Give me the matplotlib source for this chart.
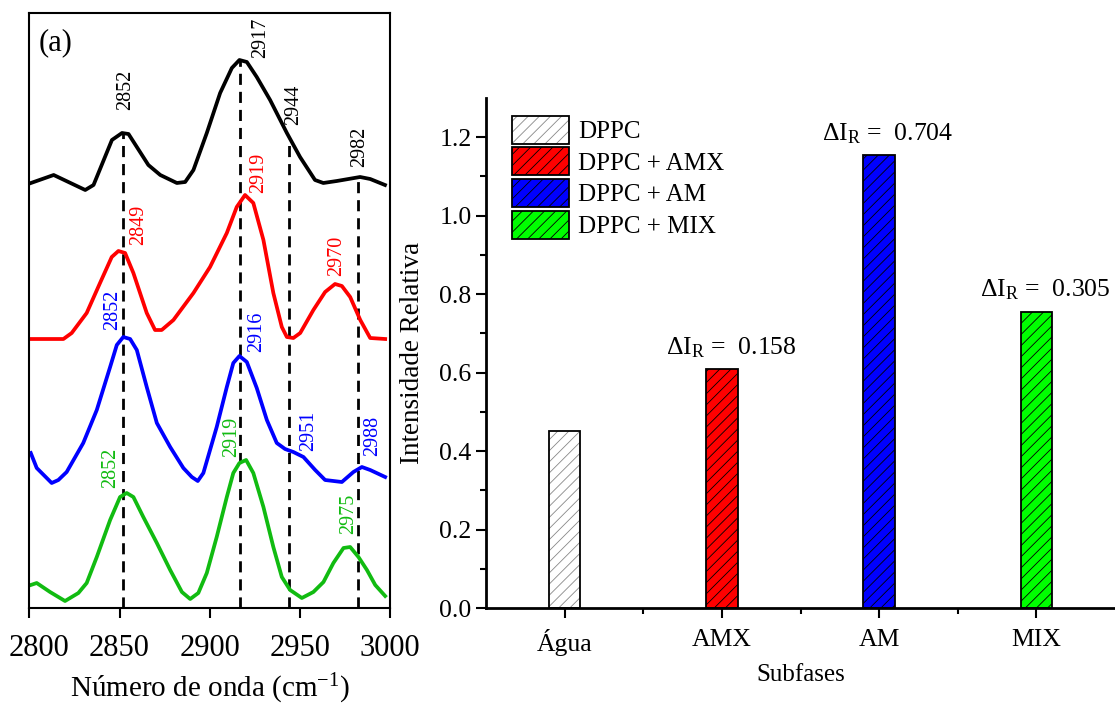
import numpy as np
import matplotlib.pyplot as plt
import matplotlib.transforms as mtransforms

plt.rcParams['font.family'] = ['Liberation Serif', 'DejaVu Serif']
plt.rcParams['mathtext.fontset'] = 'custom'
plt.rcParams['mathtext.rm'] = 'Liberation Serif'
plt.rcParams['mathtext.it'] = 'Liberation Serif:italic'
plt.rcParams['hatch.linewidth'] = 0.6

# (a) ATR spectra, CH stretching region (offset stacked, a.u.)
wn_dppc = [2800.9, 2813.5, 2831.0, 2835.6, 2845.8, 2851.4, 2855.0, 2866.0, 2872.6,
           2881.8, 2886.4, 2891.0, 2898.4, 2905.8, 2912.3, 2916.5, 2920.6, 2926.1,
           2933.5, 2942.8, 2950.1, 2958.4, 2963.0, 2970.5, 2983.4, 2989.0, 2997.2]
int_dppc = [4.25, 4.33, 4.18, 4.23, 4.68, 4.75, 4.74, 4.43, 4.33,
            4.25, 4.26, 4.38, 4.75, 5.15, 5.40, 5.48, 5.46, 5.31,
            5.08, 4.75, 4.51, 4.28, 4.25, 4.27, 4.31, 4.29, 4.23]

wn_amx = [2800.8, 2818.9, 2823.5, 2831.8, 2839.2, 2845.7, 2849.4, 2853.1, 2857.7,
          2865.1, 2869.7, 2873.4, 2879.9, 2891.0, 2900.2, 2909.5, 2915.0, 2919.6,
          2924.2, 2929.8, 2935.3, 2940.0, 2942.8, 2946.4, 2950.2, 2957.5, 2964.0,
          2969.5, 2973.3, 2977.9, 2983.5, 2989.0, 2997.3]
int_amx = [2.69, 2.69, 2.75, 2.95, 3.25, 3.51, 3.57, 3.55, 3.35,
           2.95, 2.78, 2.78, 2.88, 3.15, 3.41, 3.75, 4.01, 4.13,
           4.05, 3.68, 3.15, 2.81, 2.71, 2.70, 2.75, 2.98, 3.16,
           3.24, 3.22, 3.11, 2.88, 2.70, 2.69]

wn_am = [2800.8, 2804.1, 2812.4, 2816.1, 2820.7, 2829.9, 2837.4, 2844.8, 2848.5,
         2852.1, 2855.9, 2859.6, 2865.1, 2870.7, 2878.1, 2885.4, 2890.1, 2893.4,
         2896.5, 2903.9, 2909.5, 2913.1, 2916.5, 2920.6, 2926.1, 2931.7, 2937.2,
         2941.8, 2946.4, 2952.0, 2958.5, 2964.0, 2973.3, 2979.7, 2984.4, 2989.0, 2997.3]
int_am = [1.55, 1.40, 1.25, 1.28, 1.36, 1.65, 1.98, 2.41, 2.63,
          2.71, 2.69, 2.58, 2.21, 1.85, 1.61, 1.40, 1.31, 1.27,
          1.35, 1.81, 2.21, 2.45, 2.52, 2.46, 2.20, 1.88, 1.65,
          1.59, 1.56, 1.51, 1.38, 1.28, 1.26, 1.36, 1.41, 1.38, 1.31]

wn_mix = [2800.8, 2804.1, 2811.5, 2819.8, 2827.2, 2831.8, 2837.4, 2844.8, 2850.3,
          2854.0, 2857.7, 2863.2, 2870.7, 2878.1, 2884.6, 2889.2, 2893.7, 2898.4,
          2903.9, 2909.5, 2913.1, 2916.5, 2920.2, 2924.2, 2929.8, 2935.3, 2940.0,
          2944.6, 2951.1, 2957.5, 2963.1, 2968.6, 2974.2, 2977.9, 2982.5, 2987.2,
          2991.8, 2997.3]
int_mix = [0.23, 0.25, 0.16, 0.07, 0.15, 0.25, 0.51, 0.88, 1.11,
           1.15, 1.11, 0.91, 0.65, 0.38, 0.16, 0.09, 0.15, 0.35,
           0.71, 1.11, 1.35, 1.45, 1.48, 1.35, 1.01, 0.61, 0.31,
           0.18, 0.10, 0.16, 0.26, 0.45, 0.60, 0.61, 0.51, 0.38,
           0.23, 0.12]

# reference bands of pure DPPC (dashed guides)
bands_dppc = [2852, 2917, 2944, 2982]

# band labels per spectrum
peaks_dppc = ['2852', '2917', '2944', '2982']
peaks_amx = ['2849', '2919', '2970']
peaks_am = ['2852', '2916', '2951', '2988']
peaks_mix = ['2852', '2919', '2975']

# (b) relative intensity by subphase
subfases = ['Água', 'AMX', 'AM', 'MIX']
series = ['DPPC', 'DPPC + AMX', 'DPPC + AM', 'DPPC + MIX']
i_rel = [0.450, 0.608, 1.154, 0.755]
delta_ir = [None, 0.158, 0.704, 0.305]

# where each band label sits (x, y of bottom end)
pos_dppc = [(2853.6, 4.98), (2928.5, 5.50), (2946.8, 4.83), (2983.4, 4.41)]
pos_amx = [(2860.8, 3.63), (2927.4, 4.15), (2970.6, 3.32)]
pos_am = [(2846.4, 2.78), (2926.3, 2.56), (2954.6, 1.57), (2990.6, 1.52)]
pos_mix = [(2845.3, 1.20), (2912.4, 1.51), (2976.8, 0.74)]

fig = plt.figure(figsize=(11.15, 7.06), dpi=100)

# ---- left panel ----
ax1 = fig.add_axes([0.0263, 0.1388, 0.3235, 0.8428])
ax1.set_xlim(2800, 3000)
ax1.set_ylim(0, 5.95)

guide_top = np.interp(bands_dppc, wn_dppc, int_dppc)
ax1.vlines(bands_dppc, 0, guide_top, colors='black', linewidth=2,
           linestyles=(0, (4, 2.5)), zorder=1)

spectra = [(wn_dppc, int_dppc, 'black', peaks_dppc, pos_dppc),
           (wn_amx, int_amx, '#ff0000', peaks_amx, pos_amx),
           (wn_am, int_am, '#0000ff', peaks_am, pos_am),
           (wn_mix, int_mix, '#11bb11', peaks_mix, pos_mix)]
for wn, yy, col, labs, pos in spectra:
    ax1.plot(wn, yy, color=col, linewidth=2.7, zorder=2,
             solid_joinstyle='round')
    for lab, (px, py) in zip(labs, pos):
        ax1.text(px, py, lab, color=col, rotation=90, fontsize=14.5,
                 ha='center', va='bottom')

ax1.text(0.025, 0.975, '(a)', transform=ax1.transAxes, fontsize=22,
         ha='left', va='top')
ax1.set_yticks([])
ax1.set_xticks([2800, 2850, 2900, 2950, 3000])
ax1.tick_params(axis='x', direction='out', length=7, width=1.5,
                labelsize=22, pad=12)
# first label nudged right so it stays inside the figure
first = ax1.get_xticklabels()[0]
first.set_transform(first.get_transform() +
                    mtransforms.ScaledTranslation(0.1, 0, fig.dpi_scale_trans))
for sp in ax1.spines.values():
    sp.set_linewidth(1.5)
ax1.set_xlabel('Número de onda (cm$^{-1}$)', fontsize=21, labelpad=6)

# ---- right panel ----
ax2 = fig.add_axes([0.4359, 0.1388, 0.5641, 0.7224])
x = np.arange(len(subfases))
faces = ['white', '#ff0000', '#0000ff', '#00ff00']
hatch_cols = ['#888888', 'black', 'black', 'black']
handles = []
for i in range(len(subfases)):
    h1 = ax2.bar(x[i], i_rel[i], width=0.2, color=faces[i],
                 edgecolor=hatch_cols[i], hatch='///', linewidth=0, zorder=2)
    h2 = ax2.bar(x[i], i_rel[i], width=0.2, fill=False,
                 edgecolor='black', linewidth=1.3, zorder=3)
    handles.append((h1[0], h2[0]))
    if delta_ir[i] is not None:
        ax2.annotate('$\\Delta$I$_{\\mathrm{R}}$ =  %.3f' % delta_ir[i],
                     xy=(x[i], i_rel[i]), xytext=(6.5, 7),
                     textcoords='offset points', ha='center', va='bottom',
                     fontsize=18.5)

ax2.set_xlim(-0.5, 3.5)
ax2.set_ylim(0, 1.3)
ax2.set_xticks(x)
ax2.set_xticklabels(subfases)
ax2.set_xticks([0.5, 1.5, 2.5], minor=True)
ax2.set_yticks([0.0, 0.2, 0.4, 0.6, 0.8, 1.0, 1.2])
ax2.set_yticks(np.arange(0.1, 1.3, 0.2), minor=True)
ax2.yaxis.set_major_formatter(plt.FormatStrFormatter('%.1f'))
ax2.tick_params(which='major', direction='out', length=7, width=1.5,
                labelsize=18.5)
ax2.tick_params(which='minor', direction='out', length=4, width=1.5)
ax2.tick_params(axis='x', pad=8)
ax2.spines['top'].set_visible(False)
ax2.spines['right'].set_visible(False)
ax2.spines['left'].set_linewidth(2)
ax2.spines['bottom'].set_linewidth(2)
ax2.set_xlabel('Subfases', fontsize=18, labelpad=6)
ax2.set_ylabel('Intensidade Relativa', fontsize=19.5, labelpad=10)

ax2.legend(handles, series, loc='upper left', bbox_to_anchor=(0.041, 0.965),
           frameon=False, fontsize=18, borderpad=0, borderaxespad=0,
           handlelength=2.3, handleheight=1.35, labelspacing=0.14,
           handletextpad=0.36)

fig.savefig('out.png', dpi=100)
